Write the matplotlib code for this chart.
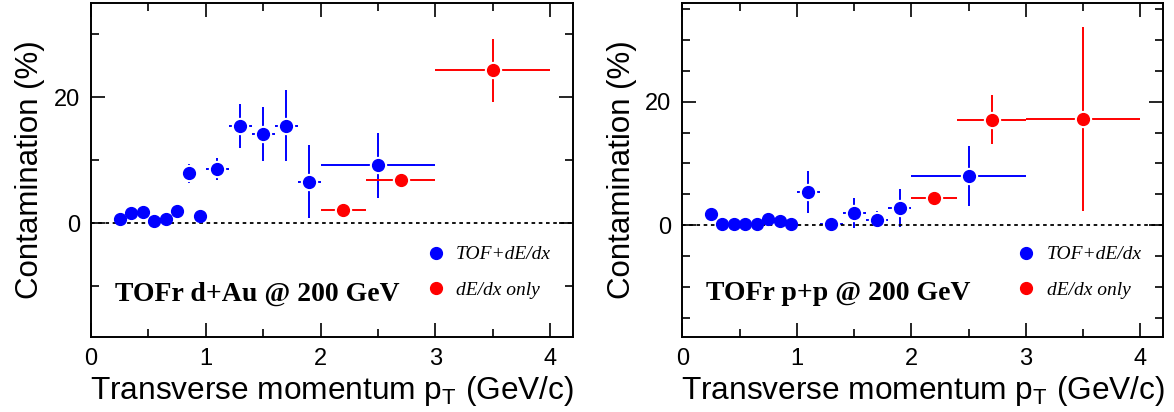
import matplotlib
matplotlib.use('Agg')
import matplotlib.pyplot as plt
from matplotlib.ticker import MultipleLocator

# d+Au
dau_tof_pt = [0.25, 0.35, 0.45, 0.55, 0.65, 0.75, 0.85, 0.95, 1.1, 1.3, 1.5, 1.7, 1.9, 2.5]
dau_tof_ptbin = [0.05, 0.05, 0.05, 0.05, 0.05, 0.05, 0.05, 0.05, 0.1, 0.1, 0.1, 0.1, 0.1, 0.5]
dau_tof_cont = [0.7, 1.7, 1.8, 0.4, 0.6, 1.9, 7.9, 1.2, 8.6, 15.5, 14.1, 15.5, 6.6, 9.2]
dau_tof_err = [0.3, 0.3, 0.3, 0.3, 0.3, 0.3, 1.5, 0.3, 1.7, 3.5, 4.3, 5.6, 5.8, 5.2]
dau_dedx_pt = [2.2, 2.7, 3.5]
dau_dedx_ptbin = [0.2, 0.3, 0.5]
dau_dedx_cont = [2.1, 6.8, 24.3]
dau_dedx_err = [0.4, 0.5, 5.0]

# p+p
pp_tof_pt = [0.25, 0.35, 0.45, 0.55, 0.65, 0.75, 0.85, 0.95, 1.1, 1.3, 1.5, 1.7, 1.9, 2.5]
pp_tof_ptbin = [0.05, 0.05, 0.05, 0.05, 0.05, 0.05, 0.05, 0.05, 0.1, 0.1, 0.1, 0.1, 0.1, 0.5]
pp_tof_cont = [1.9, 0.15, 0.15, 0.2, 0.25, 0.95, 0.75, 0.25, 5.4, 0.15, 2.0, 0.9, 2.8, 8.0]
pp_tof_err = [0.3, 0.2, 0.2, 0.2, 0.2, 0.3, 0.3, 0.2, 3.4, 0.5, 2.4, 1.5, 3.0, 4.9]
pp_dedx_pt = [2.2, 2.7, 3.5]
pp_dedx_ptbin = [0.2, 0.3, 0.5]
pp_dedx_cont = [4.5, 17.1, 17.2]
pp_dedx_err = [0.4, 4.0, 14.9]

plt.rcParams['font.family'] = ['Liberation Sans', 'DejaVu Sans']
plt.rcParams['mathtext.fontset'] = 'custom'
plt.rcParams['mathtext.rm'] = 'Liberation Sans'


def draw_panel(ax, tof, dedx, title, ymax, yminor):
    sets = [(tof, 'blue', 'TOF+dE/dx'), (dedx, 'red', 'dE/dx only')]
    for (pt, ptbin, cont, err), col, lab in sets:
        ax.errorbar(pt, cont, xerr=ptbin, yerr=err, fmt='none', ecolor=col, elinewidth=1.4, capsize=0, zorder=2)
    # white halo so the error bars stop short of the markers (ROOT style)
    for (pt, ptbin, cont, err), col, lab in sets:
        ax.plot(pt, cont, 'o', color='white', ms=12.5, mew=0, zorder=2.5)
    for (pt, ptbin, cont, err), col, lab in sets:
        ax.plot(pt, cont, 'o', color=col, ms=8.5, mec=col, label=lab, zorder=3)

    ax.axhline(0, color='black', ls=(0, (2, 2)), lw=1.3, zorder=2.7)
    ax.set_xlim(0, 4.2)
    ax.set_ylim(-18, ymax)
    ax.xaxis.set_major_locator(MultipleLocator(1))
    ax.xaxis.set_minor_locator(MultipleLocator(0.5))
    ax.yaxis.set_major_locator(MultipleLocator(20))
    ax.yaxis.set_minor_locator(MultipleLocator(yminor))
    ax.tick_params(which='both', direction='in', top=True, right=True, width=1.2, labelsize=17)
    ax.tick_params(which='major', length=10, pad=8)
    ax.tick_params(which='minor', length=6)
    for s in ax.spines.values():
        s.set_linewidth(1.4)

    ax.set_xlabel(r'Transverse momentum p$_{\mathrm{T}}$ (GeV/c)', fontsize=22.8, labelpad=3)
    ax.set_ylabel('Contamination (%)', fontsize=22.5, labelpad=6)

    ax.text(0.05, 0.128, title, transform=ax.transAxes, family='Liberation Serif',
            fontweight='bold', fontsize=20, va='center')
    ax.legend(loc='upper left', bbox_to_anchor=(0.695, 0.272), frameon=False,
              prop={'family': 'Liberation Serif', 'style': 'italic', 'size': 14},
              handlelength=1.0, handletextpad=0.55, labelspacing=0.9,
              borderpad=0, borderaxespad=0, numpoints=1)


fig = plt.figure(figsize=(11.74, 4.12), dpi=100)
ax1 = fig.add_axes([0.0775, 0.1828, 0.4106, 0.8107])
ax2 = fig.add_axes([0.5812, 0.1828, 0.4097, 0.8107])

draw_panel(ax1, (dau_tof_pt, dau_tof_ptbin, dau_tof_cont, dau_tof_err),
           (dau_dedx_pt, dau_dedx_ptbin, dau_dedx_cont, dau_dedx_err),
           'TOFr d+Au @ 200 GeV', 35, 10)
draw_panel(ax2, (pp_tof_pt, pp_tof_ptbin, pp_tof_cont, pp_tof_err),
           (pp_dedx_pt, pp_dedx_ptbin, pp_dedx_cont, pp_dedx_err),
           'TOFr p+p @ 200 GeV', 36, 5)

fig.savefig('out.png', dpi=100)
